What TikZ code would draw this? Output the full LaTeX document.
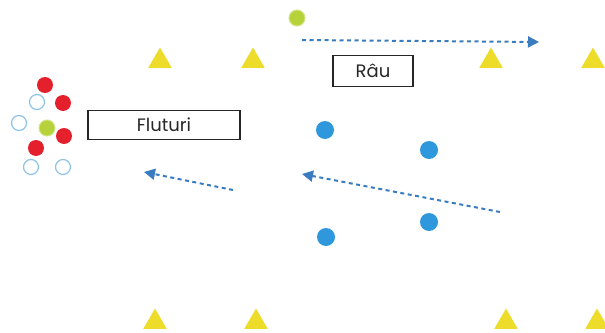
\documentclass[tikz,border=0pt]{standalone}
\usepackage{fontspec}
\setmainfont{Poppins}
\usetikzlibrary{shapes.geometric,arrows.meta}
\definecolor{cone}{HTML}{EEDC2A}
\definecolor{bluedot}{HTML}{2F98DC}
\definecolor{arrowblue}{HTML}{3A7CC0}
\definecolor{redp}{HTML}{E3202B}
\definecolor{greenp}{HTML}{B6D23A}
\definecolor{openc}{HTML}{8EC3E8}
\tikzset{
  conenode/.style={regular polygon, regular polygon sides=3, fill=cone, minimum size=27pt, inner sep=0pt},
  bdot/.style={circle, fill=bluedot, minimum size=18pt, inner sep=0pt},
  rdot/.style={circle, fill=redp, minimum size=16pt, inner sep=0pt},
  gdot/.style={circle, fill=greenp, draw=greenp!60!white, line width=1pt, minimum size=16pt, inner sep=0pt},
  odot/.style={circle, draw=openc, line width=1.2pt, fill=white, minimum size=15pt, inner sep=0pt},
  label box/.style={draw=black!85, line width=1.5pt, rectangle, inner sep=0pt, font=\fontsize{18}{20}\selectfont, text=black!85},
  moveline/.style={draw=arrowblue, line width=2pt, dash pattern=on 4pt off 3.5pt, -{Triangle[length=11pt,width=11pt]}}
}
\begin{document}
\begin{tikzpicture}[x=1pt,y=-1pt]
\useasboundingbox (0,0) rectangle (605,332);
\fill[white] (0,0) rectangle (605,332);
% cones
\node[conenode] (c1) at (160,61) {};
\node[conenode] (c2) at (253,61) {};
\node[conenode] (c3) at (491,61) {};
\node[conenode] (c4) at (593,61) {};
\node[conenode] (c5) at (155,322) {};
\node[conenode] (c6) at (256,322) {};
\node[conenode] (c7) at (506,322) {};
\node[conenode] (c8) at (597,322) {};
% left cluster
\node[rdot] (r1) at (45,85) {};
\node[rdot] (r2) at (63,103) {};
\node[rdot] (r3) at (64,136) {};
\node[rdot] (r4) at (36,148) {};
\node[odot] (o1) at (37,102) {};
\node[odot] (o2) at (19,123) {};
\node[odot] (o3) at (31,167) {};
\node[odot] (o4) at (63,167) {};
\node[gdot] (g1) at (47,128) {};
% top green
\node[gdot] (g2) at (297,18) {};
% blue dots
\node[bdot] (b1) at (325,130) {};
\node[bdot] (b2) at (429,150) {};
\node[bdot] (b3) at (429,222) {};
\node[bdot] (b4) at (326,237) {};
% labels
\node[label box, minimum width=152pt, minimum height=29pt] (flut) at (164,125) {Fluturi};
\node[label box, minimum width=80pt, minimum height=31pt] (rau) at (373,71) {Râu};
% arrows
\coordinate (a1s) at (302,40);
\coordinate (a1e) at (539,42);
\coordinate (a2s) at (233,190);
\coordinate (a2e) at (144,172);
\coordinate (a3s) at (500,212);
\coordinate (a3e) at (302,174);
\draw[moveline] (a1s) -- (a1e);
\draw[moveline] (a2s) -- (a2e);
\draw[moveline] (a3s) -- (a3e);
\end{tikzpicture}
\end{document}
